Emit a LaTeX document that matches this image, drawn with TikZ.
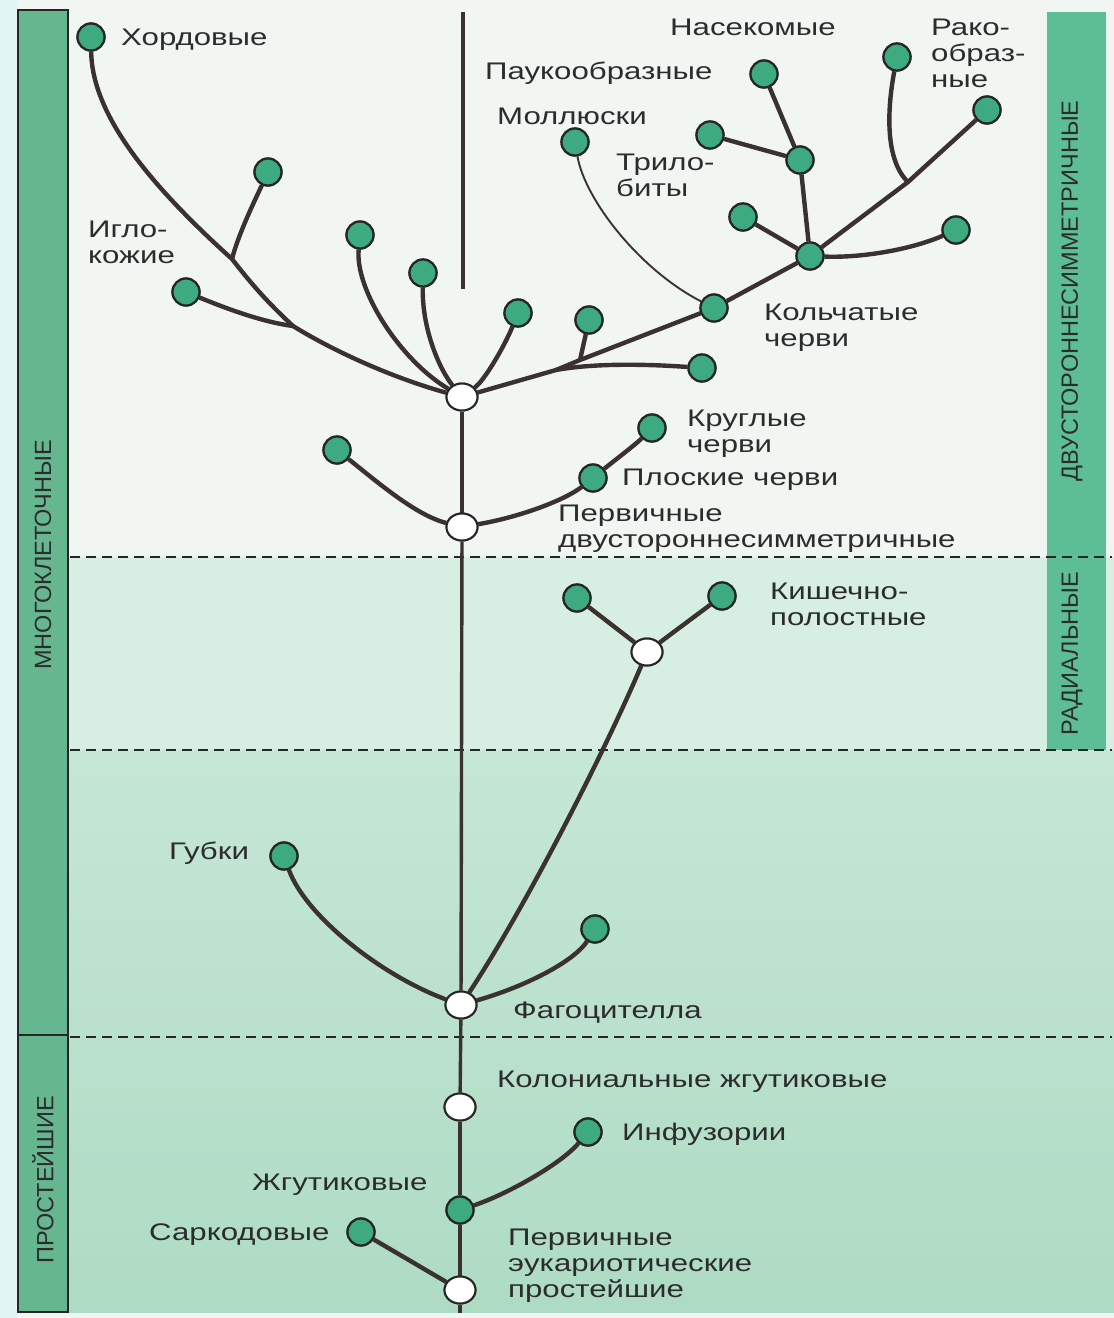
\documentclass[tikz,border=0pt]{standalone}
\usepackage{fontspec}
\newfontfamily\labf[FakeStretch=1.3]{Liberation Sans}
\newfontfamily\barf{Liberation Sans}
\usetikzlibrary{shapes.geometric}
\definecolor{linecol}{HTML}{3B312E}
\definecolor{nodeline}{HTML}{262626}
\definecolor{nodegreen}{HTML}{3DAA80}
\definecolor{barleft}{HTML}{66B690}
\definecolor{barright}{HTML}{5DBD94}
\definecolor{textcol}{HTML}{2C2C2C}
\definecolor{bgtop}{HTML}{F2F6F3}
\definecolor{bgmid}{HTML}{D7EEE2}
\definecolor{bglowA}{HTML}{C6E7D6}
\definecolor{bglowB}{HTML}{AEDBC4}
\definecolor{margincol}{HTML}{E2F6F6}
\begin{document}
\begin{tikzpicture}[x=1pt,y=-1pt,
  gn/.style={circle, draw=nodeline, line width=2.2pt, fill=nodegreen, minimum size=27pt, inner sep=0pt},
  wn/.style={ellipse, draw=nodeline, line width=2pt, fill=white, minimum width=31pt, minimum height=27pt, inner sep=0pt},
  br/.style={draw=linecol, line width=4.4pt},
  tr/.style={draw=linecol, line width=3.4pt},
  thinl/.style={draw=linecol, line width=1.9pt},
  lbl/.style={font=\labf\fontsize{24}{26}\selectfont, text=textcol, anchor=west, align=left, inner sep=0pt},
  barlbl/.style={font=\barf\fontsize{23.5}{26}\selectfont, text=textcol, rotate=90, inner sep=0pt},
  dline/.style={draw=nodeline, line width=1.7pt, dash pattern=on 10pt off 6pt}]
\useasboundingbox (0,0) rectangle (1114,1318);
% background
\fill[bgtop] (0,0) rectangle (1114,1318);
\fill[margincol] (0,0) rectangle (17,1318);
\fill[bgmid] (68,557) rectangle (1114,750);
\shade[top color=bglowA, bottom color=bglowB] (68,750) rectangle (1114,1312);
% side bars
\fill[barright] (1047,12) rectangle (1106,750);
\draw[fill=barleft, draw=nodeline, line width=2.2pt] (18,10) rectangle (68,1312);
\draw[draw=nodeline, line width=2.2pt] (18,1035) -- (68,1035);
\node[barlbl] (lmulti) at (43,555) {МНОГОКЛЕТОЧНЫЕ};
\node[barlbl] (lprot) at (43,1180) {ПРОСТЕЙШИЕ};
\node[barlbl] (lbil) at (1072,291) {ДВУСТОРОННЕСИММЕТРИЧНЫЕ};
\node[barlbl] (lrad) at (1072,654) {РАДИАЛЬНЫЕ};
% dashed lines
\draw[dline] (70,557) -- (1112,557);
\draw[dline] (70,750) -- (1112,750);
\draw[dline] (70,1037) -- (1112,1037);
% top axis
\coordinate (axtop) at (463,12);
\coordinate (axbot) at (463,289);
\draw[tr] (axtop) -- (axbot);
% white nodes
\node[wn] (main) at (462,397) {};
\node[wn] (bil) at (462,527) {};
\node[wn] (rad) at (647,652) {};
\node[wn] (fag) at (461,1005) {};
\node[wn] (kol) at (460,1107) {};
\node[wn] (pervp) at (460,1290) {};
% green nodes
\node[gn] (hord) at (91,37) {};
\node[gn] (igl) at (268,172) {};
\node[gn] (n3) at (186,292) {};
\node[gn] (n4) at (360,235) {};
\node[gn] (n5) at (423,273) {};
\node[gn] (n6) at (518,313) {};
\node[gn] (n7) at (589,320) {};
\node[gn] (kolch) at (714,308) {};
\node[gn] (n8) at (702,368) {};
\node[gn] (moll) at (575,142) {};
\node[gn] (arth) at (800,160) {};
\node[gn] (nas) at (764,74) {};
\node[gn] (n9) at (710,135) {};
\node[gn] (n10) at (743,217) {};
\node[gn] (hub) at (810,256) {};
\node[gn] (n11) at (956,230) {};
\node[gn] (rak) at (897,57) {};
\node[gn] (n12) at (987,110) {};
\node[gn] (krug) at (652,428) {};
\node[gn] (plosk) at (593,478) {};
\node[gn] (n13) at (337,450) {};
\node[gn] (kish1) at (577,598) {};
\node[gn] (kish2) at (722,596) {};
\node[gn] (gub) at (284,856) {};
\node[gn] (n14) at (595,929) {};
\node[gn] (inf) at (588,1132) {};
\node[gn] (zhg) at (460,1210) {};
\node[gn] (sark) at (361,1232) {};
% junction coordinates
\coordinate (j1) at (232,259);
\coordinate (j2) at (293,326);
\coordinate (jb) at (556,370);
\coordinate (jr) at (580,360);
\coordinate (jk) at (908,182);
\coordinate (trbot) at (460,1313);
% trunk
\draw[tr] (trbot) -- (pervp);
\draw[tr] (pervp) -- (zhg);
\draw[tr] (zhg) -- (kol);
\draw[tr] (kol) -- (fag);
\draw[tr] (fag) -- (bil);
\draw[tr] (bil) -- (main);
% protists
\draw[br] (sark) -- (pervp);
\draw[br] (zhg) .. controls (505,1195) and (560,1165) .. (inf);
% sponges etc
\draw[br] (fag) .. controls (380,975) and (305,915) .. (gub);
\draw[br] (fag) .. controls (530,985) and (575,960) .. (n14);
\draw[br] (fag) .. controls (530,900) and (610,740) .. (rad);
\draw[br] (rad) -- (kish1);
\draw[br] (rad) -- (kish2);
% primary bilateria
\draw[br] (bil) .. controls (415,515) and (375,480) .. (n13);
\draw[br] (bil) .. controls (520,517) and (565,500) .. (plosk);
\draw[br] (plosk) .. controls (615,460) and (635,445) .. (krug);
% chordates branch
\draw[br] (main) .. controls (400,380) and (340,355) .. (j2) .. controls (265,300) and (250,282) .. (j1) .. controls (150,185) and (92,115) .. (hord);
\draw[br] (igl) .. controls (255,200) and (238,235) .. (j1);
\draw[br] (n3) .. controls (225,308) and (262,322) .. (j2);
\draw[br] (n4) .. controls (355,290) and (400,360) .. (main);
\draw[br] (n5) .. controls (422,330) and (440,370) .. (main);
\draw[br] (n6) .. controls (505,345) and (485,380) .. (main);
% annelid / arthropod branch
\draw[br] (main) -- (jb) -- (jr) -- (kolch);
\draw[br] (jb) .. controls (600,362) and (660,365) .. (n8);
\draw[br] (n7) -- (jr);
\draw[thinl] (moll) .. controls (585,200) and (640,270) .. (kolch);
\draw[br] (kolch) -- (hub);
\draw[br] (hub) -- (n10);
\draw[br] (hub) -- (arth);
\draw[br] (arth) -- (nas);
\draw[br] (arth) -- (n9);
\draw[br] (hub) .. controls (860,258) and (910,250) .. (n11);
\draw[br] (hub) -- (jk) -- (n12);
\draw[br] (rak) .. controls (887,110) and (885,160) .. (jk);
% redraw nodes on top
\foreach \n in {hord,igl,n3,n4,n5,n6,n7,kolch,n8,moll,arth,nas,n9,n10,hub,n11,rak,n12,krug,plosk,n13,kish1,kish2,gub,n14,inf,zhg,sark}{
  \node[gn] at (\n) {};
}
\foreach \n in {main,bil,rad,fag,kol,pervp}{
  \node[wn] at (\n) {};
}
% labels
\node[lbl] (t1) at (121,40) {Хордовые};
\node[lbl] (t2) at (88,242) {Игло-\\кожие};
\node[lbl] (t3) at (670,27) {Насекомые};
\node[lbl] (t4) at (931,53) {Рако-\\образ-\\ные};
\node[lbl] (t5) at (485,73) {Паукообразные};
\node[lbl] (t6) at (497,116) {Моллюски};
\node[lbl] (t7) at (616,175) {Трило-\\биты};
\node[lbl] (t8) at (764,328) {Кольчатые\\черви};
\node[lbl] (t9) at (687,434) {Круглые\\черви};
\node[lbl] (t10) at (622,480) {Плоские черви};
\node[lbl] (t11) at (558,529) {Первичные\\двустороннесимметричные};
\node[lbl] (t12) at (770,604) {Кишечно-\\полостные};
\node[lbl] (t13) at (169,853) {Губки};
\node[lbl] (t14) at (513,1013) {Фагоцителла};
\node[lbl] (t15) at (497,1082) {Колониальные жгутиковые};
\node[lbl] (t16) at (622,1134) {Инфузории};
\node[lbl] (t17) at (252,1185) {Жгутиковые};
\node[lbl] (t18) at (149,1235) {Саркодовые};
\node[lbl] (t19) at (508,1266) {Первичные\\эукариотические\\простейшие};
\end{tikzpicture}
\end{document}
